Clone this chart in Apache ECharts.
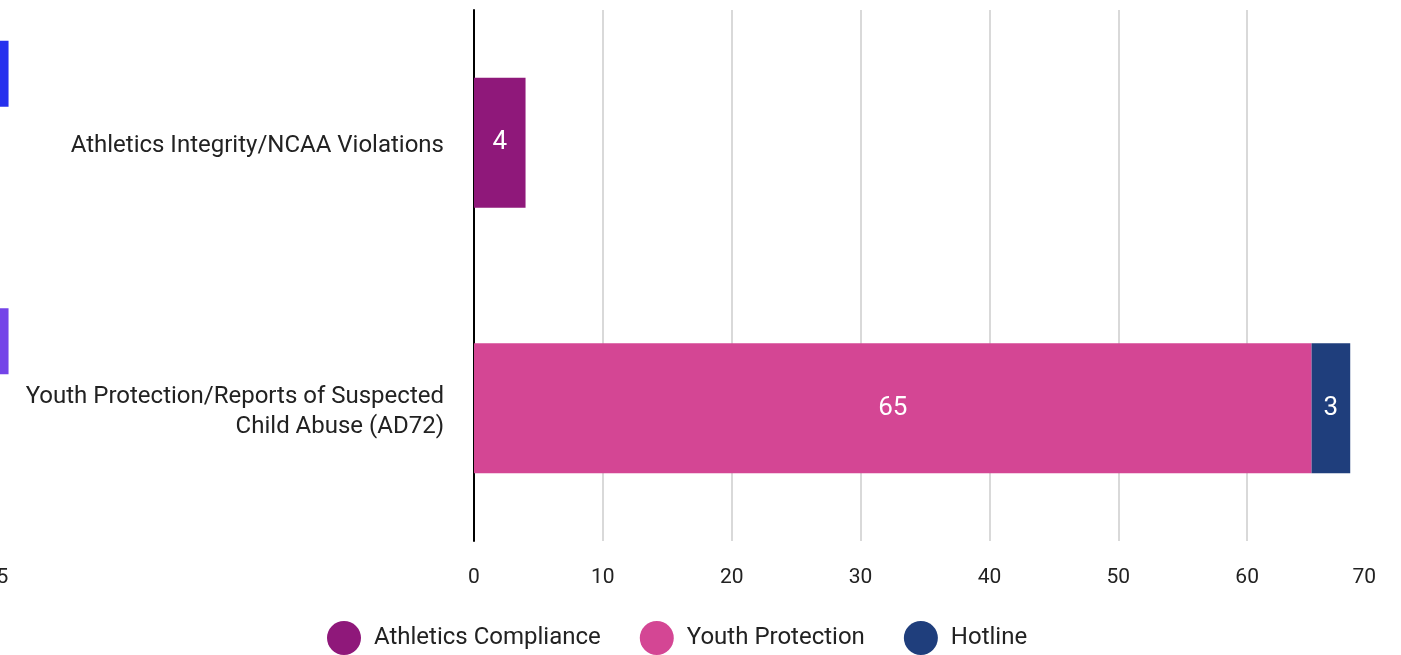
<!DOCTYPE html>
<html>
<head>
<meta charset="utf-8">
<script src="https://cdn.jsdelivr.net/npm/echarts@6/dist/echarts.min.js"></script>
<style>
html,body{margin:0;padding:0;background:#fff;}
#chart{width:1401px;height:655px;}
</style>
</head>
<body>
<div id="chart"></div>
<script>
const categories = ['Athletics Integrity/NCAA Violations', 'Youth Protection/Reports of Suspected\nChild Abuse (AD72)'];
const seriesNames = ['Athletics Compliance', 'Youth Protection', 'Hotline'];
const athleticsCompliance = [4, null];
const youthProtection = [null, 65];
const hotline = [null, 3];
const xTicks = [0, 10, 20, 30, 40, 50, 60, 70];
// partially visible neighbouring chart at the left edge
const sideValues = [5.1, 5.1];

const colors = ['#8F187A', '#D44694', '#1F3E7C'];
const sideColors = ['#2630EE', '#7444E8'];
const font = 'Roboto, "Noto Sans", sans-serif';

const chart = echarts.init(document.getElementById('chart'));
const labelStyle = {show: true, position: 'inside', color: '#fff', fontSize: 26, fontFamily: font,
  formatter: p => (p.value == null ? '' : p.value)};

chart.setOption({
  animation: false,
  textStyle: {fontFamily: font},
  legend: {
    data: seriesNames.map((n, i) => ({name: n, itemStyle: {color: colors[i]}})),
    bottom: 0, left: 327, padding: 0,
    icon: 'circle', itemWidth: 34, itemHeight: 34, itemGap: 39,
    textStyle: {fontSize: 24, color: '#222', fontFamily: font, padding: [0, 0, 0, 8]}
  },
  grid: [
    {left: 474, right: 25, top: 10, bottom: 114, containLabel: false, outerBoundsMode: 'none'},
    {left: -300, width: 363, top: -60, height: 535, containLabel: false, outerBoundsMode: 'none'}
  ],
  xAxis: [
    {
      type: 'value', gridIndex: 0, min: xTicks[0], max: xTicks[xTicks.length - 1], interval: 10,
      axisLine: {show: false}, axisTick: {show: false},
      splitLine: {show: true, showMinLine: false, showMaxLine: false, lineStyle: {color: '#d9d9d9', width: 2}},
      axisLabel: {fontSize: 21, color: '#222', margin: 26, fontFamily: font, alignMaxLabel: 'right'}
    },
    {
      type: 'value', gridIndex: 1, min: 0, max: 6, interval: 5,
      axisLine: {show: false}, axisTick: {show: false}, splitLine: {show: false},
      axisLabel: {fontSize: 21, color: '#222', margin: 92, fontFamily: font, showMaxLabel: false}
    }
  ],
  yAxis: [
    {
      type: 'category', gridIndex: 0, data: categories, inverse: true,
      axisLine: {show: true, lineStyle: {color: '#000', width: 2}}, axisTick: {show: false},
      axisLabel: {color: '#222', margin: 30, align: 'right', fontFamily: font,
                  formatter: v => '{p|}\n' + v.split('\n').map(s => '{a|' + s + '}').join('\n'),
                  rich: {a: {fontSize: 24, lineHeight: 30, fontFamily: font, color: '#222'},
                         p: {fontSize: 1, lineHeight: 7}}}
    },
    {
      type: 'category', gridIndex: 1, data: categories, inverse: true, show: false
    }
  ],
  series: [
    {name: seriesNames[0], type: 'bar', stack: 'a', data: athleticsCompliance, barWidth: 130,
     itemStyle: {color: colors[0]}, label: labelStyle},
    {name: seriesNames[1], type: 'bar', stack: 'a', data: youthProtection, barWidth: 130,
     itemStyle: {color: colors[1]}, label: labelStyle},
    {name: seriesNames[2], type: 'bar', stack: 'a', data: hotline, barWidth: 130,
     itemStyle: {color: colors[2]}, label: labelStyle},
    {name: 'side', type: 'bar', xAxisIndex: 1, yAxisIndex: 1, barWidth: 66,
     data: sideValues.map((v, i) => ({value: v, itemStyle: {color: sideColors[i]}})),
     label: {show: false}, silent: true}
  ]
});
</script>
</body>
</html>
